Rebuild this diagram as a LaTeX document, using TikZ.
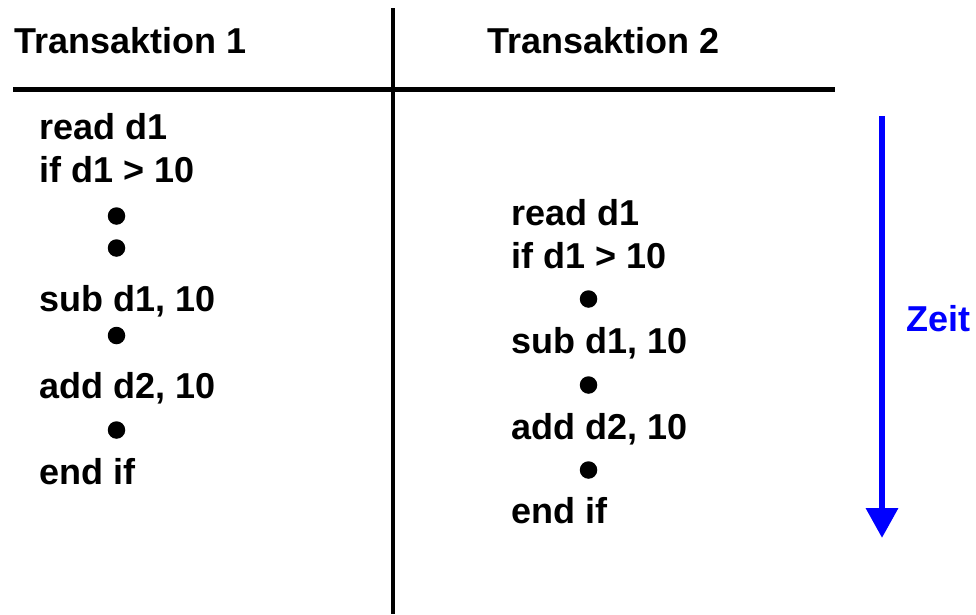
\documentclass[tikz,border=0pt]{standalone}
\usepackage{fontspec}
\setmainfont{Liberation Sans}
\usetikzlibrary{arrows.meta}

\definecolor{zeitblue}{RGB}{0,0,255}

\begin{document}
\begin{tikzpicture}[x=1pt,y=-1pt,
  code/.style={anchor=base west,inner sep=0pt,font=\fontsize{36}{40}\selectfont\bfseries},
  dotmark/.style={circle,fill=black,inner sep=0pt,minimum size=17.5pt},
  rule/.style={line width=4.8pt},
  timearrow/.style={draw=zeitblue,line width=6.5pt,-{Triangle[width=31pt,length=30pt]}}]
  \useasboundingbox (0,0) rectangle (976,614);

  % table frame
  \coordinate (vtop) at (393,8);
  \coordinate (vbot) at (393,614);
  \coordinate (hl) at (13,89.5);
  \coordinate (hr) at (835,89.5);
  \draw[rule] (vtop) -- (vbot);
  \draw[rule] (hl) -- (hr);

  % column headings
  \node[code] (h1) at (14,53) {Transaktion 1};
  \node[code] (h2) at (487,53) {Transaktion 2};

  % transaction 1
  \node[code] (a1) at (39,139.5) {read d1};
  \node[code] (a2) at (39,182.5) {if d1 > 10};
  \node[dotmark] (ad1) at (116.5,216) {};
  \node[dotmark] (ad2) at (116.5,248) {};
  \node[code] (a3) at (39,311) {sub d1, 10};
  \node[dotmark] (ad3) at (116.5,335.5) {};
  \node[code] (a4) at (39,398) {add d2, 10};
  \node[dotmark] (ad4) at (116.5,430) {};
  \node[code] (a5) at (39,484) {end if};

  % transaction 2
  \node[code] (b1) at (511.5,225) {read d1};
  \node[code] (b2) at (511.5,268) {if d1 > 10};
  \node[dotmark] (bd1) at (588.5,299) {};
  \node[code] (b3) at (511.5,353) {sub d1, 10};
  \node[dotmark] (bd2) at (588.5,385) {};
  \node[code] (b4) at (511.5,439) {add d2, 10};
  \node[dotmark] (bd3) at (588.5,470) {};
  \node[code] (b5) at (511.5,523) {end if};

  % time axis
  \coordinate (ttop) at (882,116);
  \coordinate (tbot) at (882,538);
  \draw[timearrow] (ttop) -- (tbot);
  \node[code,text=zeitblue] (zeit) at (906,331) {Zeit};
\end{tikzpicture}
\end{document}
